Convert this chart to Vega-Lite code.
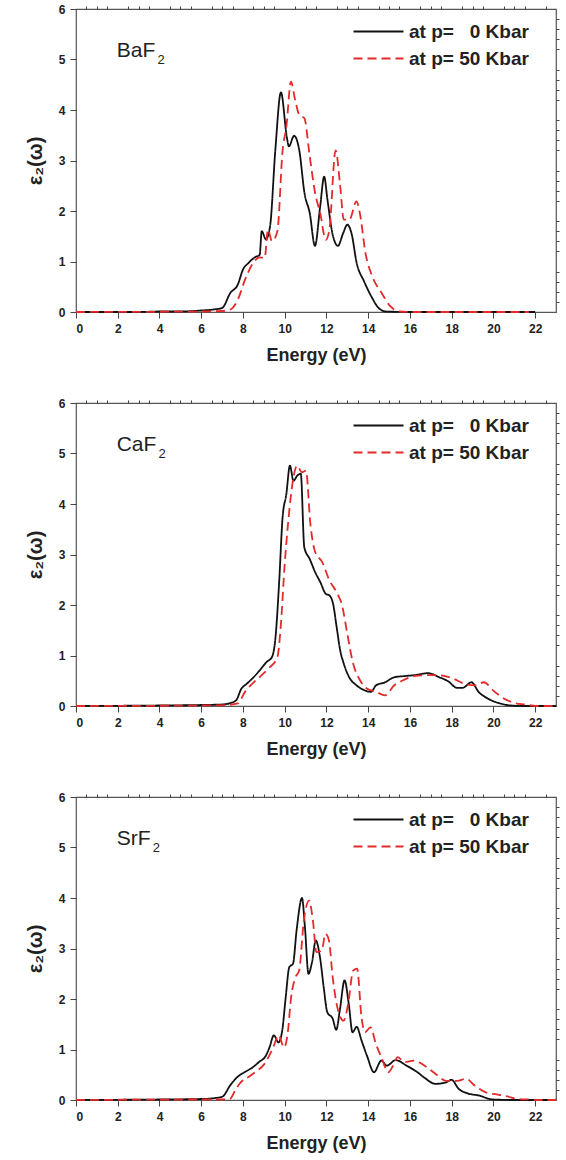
{
"$schema": "https://vega.github.io/schema/vega-lite/v6.json",
"autosize": {"type": "pad"},
"padding": {"left": 24, "top": 2, "right": 0, "bottom": 0},
"background": "white",
"spacing": 31,
"config": {
  "view": {"stroke": "#555", "strokeWidth": 1.2},
  "font": "Liberation Sans",
  "axis": {"grid": false, "domain": false, "labelOverlap": false, "labelFont": "Liberation Sans", "labelFontWeight": "bold", "labelFontSize": 12, "labelColor": "#222", "tickColor": "#444", "tickWidth": 1, "titleFont": "Liberation Sans", "titleFontWeight": "bold", "titleColor": "#222"},
  "legend": {"title": null, "orient": "none", "legendX": 264, "legendY": 9, "padding": 0, "symbolType": "M-2,0H2", "symbolSize": 625, "symbolOffset": 25, "symbolStrokeWidth": 1.8, "symbolFillColor": "transparent", "labelFont": "Liberation Sans", "labelFontSize": 19, "labelFontWeight": "bold", "labelColor": "#222", "labelOffset": 17, "rowPadding": 3},
  "line": {"interpolate": "monotone", "strokeWidth": 1.8},
  "text": {"font": "Liberation Sans", "color": "#222"}
},
"datasets": {
"BaF2": [
{"pressure":"0 Kbar","energy":0,"eps":0},{"pressure":"0 Kbar","energy":3,"eps":0},{"pressure":"0 Kbar","energy":4,"eps":0.01},{"pressure":"0 Kbar","energy":5,"eps":0.01},{"pressure":"0 Kbar","energy":6,"eps":0.03},{"pressure":"0 Kbar","energy":6.6,"eps":0.05},{"pressure":"0 Kbar","energy":7.0,"eps":0.08},{"pressure":"0 Kbar","energy":7.4,"eps":0.38},{"pressure":"0 Kbar","energy":7.75,"eps":0.54},{"pressure":"0 Kbar","energy":8.0,"eps":0.84},{"pressure":"0 Kbar","energy":8.26,"eps":0.97},{"pressure":"0 Kbar","energy":8.6,"eps":1.09},{"pressure":"0 Kbar","energy":8.8,"eps":1.13},{"pressure":"0 Kbar","energy":8.9,"eps":1.6},{"pressure":"0 Kbar","energy":9.1,"eps":1.44},{"pressure":"0 Kbar","energy":9.3,"eps":1.7},{"pressure":"0 Kbar","energy":9.55,"eps":3.2},{"pressure":"0 Kbar","energy":9.82,"eps":4.35},{"pressure":"0 Kbar","energy":10.1,"eps":3.47},{"pressure":"0 Kbar","energy":10.2,"eps":3.28},{"pressure":"0 Kbar","energy":10.45,"eps":3.49},{"pressure":"0 Kbar","energy":10.7,"eps":3.2},{"pressure":"0 Kbar","energy":10.95,"eps":2.35},{"pressure":"0 Kbar","energy":11.2,"eps":1.96},{"pressure":"0 Kbar","energy":11.45,"eps":1.31},{"pressure":"0 Kbar","energy":11.7,"eps":2.09},{"pressure":"0 Kbar","energy":11.89,"eps":2.68},{"pressure":"0 Kbar","energy":12.05,"eps":2.22},{"pressure":"0 Kbar","energy":12.3,"eps":1.53},{"pressure":"0 Kbar","energy":12.55,"eps":1.31},{"pressure":"0 Kbar","energy":12.8,"eps":1.56},{"pressure":"0 Kbar","energy":13.0,"eps":1.73},{"pressure":"0 Kbar","energy":13.2,"eps":1.56},{"pressure":"0 Kbar","energy":13.45,"eps":0.97},{"pressure":"0 Kbar","energy":13.8,"eps":0.61},{"pressure":"0 Kbar","energy":14.15,"eps":0.31},{"pressure":"0 Kbar","energy":14.5,"eps":0.08},{"pressure":"0 Kbar","energy":14.85,"eps":0.01},{"pressure":"0 Kbar","energy":16,"eps":0},{"pressure":"0 Kbar","energy":22,"eps":0},
{"pressure":"50 Kbar","energy":0,"eps":0},{"pressure":"50 Kbar","energy":6,"eps":0.01},{"pressure":"50 Kbar","energy":7.0,"eps":0.02},{"pressure":"50 Kbar","energy":7.4,"eps":0.05},{"pressure":"50 Kbar","energy":7.75,"eps":0.24},{"pressure":"50 Kbar","energy":8.1,"eps":0.64},{"pressure":"50 Kbar","energy":8.44,"eps":0.94},{"pressure":"50 Kbar","energy":8.8,"eps":1.08},{"pressure":"50 Kbar","energy":9.04,"eps":1.07},{"pressure":"50 Kbar","energy":9.2,"eps":1.63},{"pressure":"50 Kbar","energy":9.39,"eps":1.4},{"pressure":"50 Kbar","energy":9.65,"eps":1.6},{"pressure":"50 Kbar","energy":9.9,"eps":3.2},{"pressure":"50 Kbar","energy":10.08,"eps":3.67},{"pressure":"50 Kbar","energy":10.3,"eps":4.56},{"pressure":"50 Kbar","energy":10.5,"eps":4.2},{"pressure":"50 Kbar","energy":10.7,"eps":3.9},{"pressure":"50 Kbar","energy":10.94,"eps":3.84},{"pressure":"50 Kbar","energy":11.2,"eps":3.08},{"pressure":"50 Kbar","energy":11.46,"eps":2.35},{"pressure":"50 Kbar","energy":11.7,"eps":1.96},{"pressure":"50 Kbar","energy":11.97,"eps":1.43},{"pressure":"50 Kbar","energy":12.14,"eps":1.63},{"pressure":"50 Kbar","energy":12.44,"eps":3.2},{"pressure":"50 Kbar","energy":12.66,"eps":2.49},{"pressure":"50 Kbar","energy":12.83,"eps":1.83},{"pressure":"50 Kbar","energy":13.1,"eps":1.83},{"pressure":"50 Kbar","energy":13.44,"eps":2.19},{"pressure":"50 Kbar","energy":13.6,"eps":1.96},{"pressure":"50 Kbar","energy":13.87,"eps":1.17},{"pressure":"50 Kbar","energy":14.2,"eps":0.7},{"pressure":"50 Kbar","energy":14.64,"eps":0.38},{"pressure":"50 Kbar","energy":15.07,"eps":0.11},{"pressure":"50 Kbar","energy":15.5,"eps":0.01},{"pressure":"50 Kbar","energy":16,"eps":0},{"pressure":"50 Kbar","energy":21.7,"eps":0}
],
"CaF2": [
{"pressure":"0 Kbar","energy":0,"eps":0},{"pressure":"0 Kbar","energy":4,"eps":0.01},{"pressure":"0 Kbar","energy":6,"eps":0.02},{"pressure":"0 Kbar","energy":7,"eps":0.03},{"pressure":"0 Kbar","energy":7.41,"eps":0.06},{"pressure":"0 Kbar","energy":7.67,"eps":0.11},{"pressure":"0 Kbar","energy":7.92,"eps":0.34},{"pressure":"0 Kbar","energy":8.18,"eps":0.44},{"pressure":"0 Kbar","energy":8.44,"eps":0.54},{"pressure":"0 Kbar","energy":8.79,"eps":0.7},{"pressure":"0 Kbar","energy":9.13,"eps":0.87},{"pressure":"0 Kbar","energy":9.39,"eps":0.97},{"pressure":"0 Kbar","energy":9.56,"eps":1.36},{"pressure":"0 Kbar","energy":9.73,"eps":2.42},{"pressure":"0 Kbar","energy":9.9,"eps":3.74},{"pressure":"0 Kbar","energy":10.08,"eps":4.2},{"pressure":"0 Kbar","energy":10.25,"eps":4.76},{"pressure":"0 Kbar","energy":10.42,"eps":4.46},{"pressure":"0 Kbar","energy":10.6,"eps":4.56},{"pressure":"0 Kbar","energy":10.77,"eps":4.6},{"pressure":"0 Kbar","energy":10.94,"eps":3.14},{"pressure":"0 Kbar","energy":11.2,"eps":2.91},{"pressure":"0 Kbar","energy":11.46,"eps":2.65},{"pressure":"0 Kbar","energy":11.71,"eps":2.45},{"pressure":"0 Kbar","energy":11.97,"eps":2.22},{"pressure":"0 Kbar","energy":12.14,"eps":2.19},{"pressure":"0 Kbar","energy":12.32,"eps":2.02},{"pressure":"0 Kbar","energy":12.49,"eps":1.56},{"pressure":"0 Kbar","energy":12.66,"eps":1.1},{"pressure":"0 Kbar","energy":12.83,"eps":0.84},{"pressure":"0 Kbar","energy":13.09,"eps":0.57},{"pressure":"0 Kbar","energy":13.44,"eps":0.41},{"pressure":"0 Kbar","energy":13.78,"eps":0.32},{"pressure":"0 Kbar","energy":14.13,"eps":0.28},{"pressure":"0 Kbar","energy":14.38,"eps":0.41},{"pressure":"0 Kbar","energy":14.81,"eps":0.47},{"pressure":"0 Kbar","energy":15.25,"eps":0.57},{"pressure":"0 Kbar","energy":15.68,"eps":0.59},{"pressure":"0 Kbar","energy":16.19,"eps":0.61},{"pressure":"0 Kbar","energy":16.88,"eps":0.65},{"pressure":"0 Kbar","energy":17.4,"eps":0.57},{"pressure":"0 Kbar","energy":17.83,"eps":0.49},{"pressure":"0 Kbar","energy":18.26,"eps":0.36},{"pressure":"0 Kbar","energy":18.52,"eps":0.36},{"pressure":"0 Kbar","energy":18.95,"eps":0.47},{"pressure":"0 Kbar","energy":19.29,"eps":0.28},{"pressure":"0 Kbar","energy":19.72,"eps":0.15},{"pressure":"0 Kbar","energy":20.24,"eps":0.06},{"pressure":"0 Kbar","energy":20.84,"eps":0.01},{"pressure":"0 Kbar","energy":21.5,"eps":0},{"pressure":"0 Kbar","energy":23,"eps":0},
{"pressure":"50 Kbar","energy":0,"eps":0},{"pressure":"50 Kbar","energy":6,"eps":0.01},{"pressure":"50 Kbar","energy":7.2,"eps":0.02},{"pressure":"50 Kbar","energy":7.75,"eps":0.05},{"pressure":"50 Kbar","energy":8.1,"eps":0.28},{"pressure":"50 Kbar","energy":8.44,"eps":0.44},{"pressure":"50 Kbar","energy":8.79,"eps":0.57},{"pressure":"50 Kbar","energy":9.22,"eps":0.74},{"pressure":"50 Kbar","energy":9.65,"eps":0.97},{"pressure":"50 Kbar","energy":9.82,"eps":1.63},{"pressure":"50 Kbar","energy":9.99,"eps":2.75},{"pressure":"50 Kbar","energy":10.16,"eps":3.61},{"pressure":"50 Kbar","energy":10.42,"eps":4.53},{"pressure":"50 Kbar","energy":10.6,"eps":4.76},{"pressure":"50 Kbar","energy":10.82,"eps":4.63},{"pressure":"50 Kbar","energy":11.02,"eps":4.66},{"pressure":"50 Kbar","energy":11.23,"eps":3.61},{"pressure":"50 Kbar","energy":11.46,"eps":3.05},{"pressure":"50 Kbar","energy":11.8,"eps":2.85},{"pressure":"50 Kbar","energy":12.14,"eps":2.49},{"pressure":"50 Kbar","energy":12.49,"eps":2.25},{"pressure":"50 Kbar","energy":12.75,"eps":1.99},{"pressure":"50 Kbar","energy":13.0,"eps":1.43},{"pressure":"50 Kbar","energy":13.26,"eps":0.87},{"pressure":"50 Kbar","energy":13.61,"eps":0.51},{"pressure":"50 Kbar","energy":13.95,"eps":0.34},{"pressure":"50 Kbar","energy":14.38,"eps":0.28},{"pressure":"50 Kbar","energy":14.81,"eps":0.21},{"pressure":"50 Kbar","energy":15.25,"eps":0.41},{"pressure":"50 Kbar","energy":15.68,"eps":0.51},{"pressure":"50 Kbar","energy":16.19,"eps":0.59},{"pressure":"50 Kbar","energy":16.8,"eps":0.61},{"pressure":"50 Kbar","energy":17.4,"eps":0.61},{"pressure":"50 Kbar","energy":18.09,"eps":0.54},{"pressure":"50 Kbar","energy":18.6,"eps":0.44},{"pressure":"50 Kbar","energy":19.12,"eps":0.41},{"pressure":"50 Kbar","energy":19.55,"eps":0.47},{"pressure":"50 Kbar","energy":19.98,"eps":0.31},{"pressure":"50 Kbar","energy":20.5,"eps":0.15},{"pressure":"50 Kbar","energy":21.02,"eps":0.06},{"pressure":"50 Kbar","energy":21.53,"eps":0.03},{"pressure":"50 Kbar","energy":22.05,"eps":0},{"pressure":"50 Kbar","energy":23,"eps":0}
],
"SrF2": [
{"pressure":"0 Kbar","energy":0,"eps":0},{"pressure":"0 Kbar","energy":4,"eps":0.01},{"pressure":"0 Kbar","energy":6,"eps":0.02},{"pressure":"0 Kbar","energy":6.7,"eps":0.04},{"pressure":"0 Kbar","energy":7.03,"eps":0.07},{"pressure":"0 Kbar","energy":7.37,"eps":0.28},{"pressure":"0 Kbar","energy":7.72,"eps":0.45},{"pressure":"0 Kbar","energy":8.07,"eps":0.55},{"pressure":"0 Kbar","energy":8.41,"eps":0.63},{"pressure":"0 Kbar","energy":8.76,"eps":0.75},{"pressure":"0 Kbar","energy":9.1,"eps":0.88},{"pressure":"0 Kbar","energy":9.27,"eps":1.04},{"pressure":"0 Kbar","energy":9.48,"eps":1.28},{"pressure":"0 Kbar","energy":9.7,"eps":1.14},{"pressure":"0 Kbar","energy":9.88,"eps":1.37},{"pressure":"0 Kbar","energy":10.05,"eps":2.04},{"pressure":"0 Kbar","energy":10.22,"eps":2.63},{"pressure":"0 Kbar","energy":10.4,"eps":2.7},{"pressure":"0 Kbar","energy":10.57,"eps":3.36},{"pressure":"0 Kbar","energy":10.83,"eps":4.0},{"pressure":"0 Kbar","energy":10.97,"eps":3.42},{"pressure":"0 Kbar","energy":11.14,"eps":2.5},{"pressure":"0 Kbar","energy":11.31,"eps":2.73},{"pressure":"0 Kbar","energy":11.49,"eps":3.16},{"pressure":"0 Kbar","energy":11.69,"eps":2.83},{"pressure":"0 Kbar","energy":11.87,"eps":2.23},{"pressure":"0 Kbar","energy":12.04,"eps":1.74},{"pressure":"0 Kbar","energy":12.3,"eps":1.61},{"pressure":"0 Kbar","energy":12.47,"eps":1.39},{"pressure":"0 Kbar","energy":12.64,"eps":1.77},{"pressure":"0 Kbar","energy":12.87,"eps":2.37},{"pressure":"0 Kbar","energy":13.07,"eps":1.9},{"pressure":"0 Kbar","energy":13.25,"eps":1.34},{"pressure":"0 Kbar","energy":13.45,"eps":1.45},{"pressure":"0 Kbar","energy":13.68,"eps":1.18},{"pressure":"0 Kbar","energy":13.94,"eps":0.88},{"pressure":"0 Kbar","energy":14.28,"eps":0.55},{"pressure":"0 Kbar","energy":14.63,"eps":0.78},{"pressure":"0 Kbar","energy":14.89,"eps":0.68},{"pressure":"0 Kbar","energy":15.32,"eps":0.79},{"pressure":"0 Kbar","energy":15.84,"eps":0.68},{"pressure":"0 Kbar","energy":16.36,"eps":0.55},{"pressure":"0 Kbar","energy":16.7,"eps":0.44},{"pressure":"0 Kbar","energy":17.22,"eps":0.32},{"pressure":"0 Kbar","energy":17.74,"eps":0.35},{"pressure":"0 Kbar","energy":17.99,"eps":0.4},{"pressure":"0 Kbar","energy":18.34,"eps":0.22},{"pressure":"0 Kbar","energy":18.77,"eps":0.13},{"pressure":"0 Kbar","energy":19.29,"eps":0.09},{"pressure":"0 Kbar","energy":19.98,"eps":0.01},{"pressure":"0 Kbar","energy":21,"eps":0},{"pressure":"0 Kbar","energy":23,"eps":0},
{"pressure":"50 Kbar","energy":0,"eps":0},{"pressure":"50 Kbar","energy":6,"eps":0.01},{"pressure":"50 Kbar","energy":7.0,"eps":0.01},{"pressure":"50 Kbar","energy":7.37,"eps":0.02},{"pressure":"50 Kbar","energy":7.63,"eps":0.19},{"pressure":"50 Kbar","energy":7.89,"eps":0.35},{"pressure":"50 Kbar","energy":8.24,"eps":0.45},{"pressure":"50 Kbar","energy":8.58,"eps":0.55},{"pressure":"50 Kbar","energy":9.02,"eps":0.71},{"pressure":"50 Kbar","energy":9.45,"eps":1.04},{"pressure":"50 Kbar","energy":9.71,"eps":1.28},{"pressure":"50 Kbar","energy":9.97,"eps":1.04},{"pressure":"50 Kbar","energy":10.14,"eps":1.31},{"pressure":"50 Kbar","energy":10.31,"eps":2.04},{"pressure":"50 Kbar","energy":10.52,"eps":2.43},{"pressure":"50 Kbar","energy":10.69,"eps":2.56},{"pressure":"50 Kbar","energy":10.92,"eps":3.56},{"pressure":"50 Kbar","energy":11.17,"eps":3.95},{"pressure":"50 Kbar","energy":11.35,"eps":3.56},{"pressure":"50 Kbar","energy":11.52,"eps":2.93},{"pressure":"50 Kbar","energy":11.78,"eps":2.96},{"pressure":"50 Kbar","energy":11.95,"eps":3.29},{"pressure":"50 Kbar","energy":12.12,"eps":3.16},{"pressure":"50 Kbar","energy":12.3,"eps":2.43},{"pressure":"50 Kbar","energy":12.56,"eps":1.77},{"pressure":"50 Kbar","energy":12.82,"eps":1.57},{"pressure":"50 Kbar","energy":13.04,"eps":1.9},{"pressure":"50 Kbar","energy":13.28,"eps":2.56},{"pressure":"50 Kbar","energy":13.47,"eps":2.6},{"pressure":"50 Kbar","energy":13.68,"eps":1.64},{"pressure":"50 Kbar","energy":13.85,"eps":1.34},{"pressure":"50 Kbar","energy":14.11,"eps":1.44},{"pressure":"50 Kbar","energy":14.37,"eps":1.11},{"pressure":"50 Kbar","energy":14.63,"eps":0.85},{"pressure":"50 Kbar","energy":14.97,"eps":0.55},{"pressure":"50 Kbar","energy":15.23,"eps":0.71},{"pressure":"50 Kbar","energy":15.41,"eps":0.85},{"pressure":"50 Kbar","energy":15.75,"eps":0.75},{"pressure":"50 Kbar","energy":16.18,"eps":0.78},{"pressure":"50 Kbar","energy":16.7,"eps":0.68},{"pressure":"50 Kbar","energy":17.22,"eps":0.52},{"pressure":"50 Kbar","energy":17.74,"eps":0.38},{"pressure":"50 Kbar","energy":18.26,"eps":0.38},{"pressure":"50 Kbar","energy":18.69,"eps":0.42},{"pressure":"50 Kbar","energy":19.12,"eps":0.28},{"pressure":"50 Kbar","energy":19.64,"eps":0.15},{"pressure":"50 Kbar","energy":20.16,"eps":0.11},{"pressure":"50 Kbar","energy":20.67,"eps":0.07},{"pressure":"50 Kbar","energy":21.19,"eps":0.02},{"pressure":"50 Kbar","energy":21.71,"eps":0.01},{"pressure":"50 Kbar","energy":22.2,"eps":0},{"pressure":"50 Kbar","energy":23,"eps":0}
]
},
"vconcat": [
{
 "width": 480, "height": 303,
 "resolve": {"axis": {"x": "independent", "y": "independent"}},
 "layer": [
  {"data": {"name": "BaF2"}, "mark": {"type": "line"},
   "encoding": {
    "x": {"field": "energy", "type": "quantitative", "scale": {"domain": [0, 23], "nice": false}, "axis": {"title": "Energy (eV)", "titleFontSize": 18, "titlePadding": 12, "values": [0,2,4,6,8,10,12,14,16,18,20,22], "tickSize": 6, "labelPadding": 5}},
    "y": {"field": "eps", "type": "quantitative", "scale": {"domain": [0, 6], "nice": false}, "axis": {"title": "ε₂(ω)", "titleFontSize": 20, "titlePadding": 13, "values": [0,1,2,3,4,5,6], "tickSize": 6, "labelPadding": 5}},
    "color": {"field": "pressure", "type": "nominal", "scale": {"domain": ["0 Kbar", "50 Kbar"], "range": ["#111111", "#e32b2b"]}, "legend": {"labelExpr": "'at p= ' + (datum.label == '0 Kbar' ? '\u00a0\u00a0' : '') + datum.label"}},
    "strokeDash": {"field": "pressure", "type": "nominal", "scale": {"domain": ["0 Kbar", "50 Kbar"], "range": [[1, 0], [9, 5]]}, "legend": {"labelExpr": "'at p= ' + (datum.label == '0 Kbar' ? '\u00a0\u00a0' : '') + datum.label"}}
   }},
  {"data": {"values": [{"name": "BaF", "sub": "2"}]}, "mark": {"type": "text", "fontSize": 21, "align": "left", "baseline": "alphabetic"},
   "encoding": {"x": {"datum": 1.95, "axis": {"values": [0.5,1,1.5,2.5,3,3.5,4.5,5,5.5,6.5,7,7.5,8.5,9,9.5,10.5,11,11.5,12.5,13,13.5,14.5,15,15.5,16.5,17,17.5,18.5,19,19.5,20.5,21,21.5,22.5], "labels": false, "title": null, "tickSize": 3}}, "y": {"datum": 5.05, "axis": {"values": [0.2,0.4,0.6,0.8,1.2,1.4,1.6,1.8,2.2,2.4,2.6,2.8,3.2,3.4,3.6,3.8,4.2,4.4,4.6,4.8,5.2,5.4,5.6,5.8], "labels": false, "title": null, "tickSize": 3}}, "text": {"field": "name"}}},
  {"data": {"values": [{"name": "BaF", "sub": "2"}]}, "mark": {"type": "text", "fontSize": 13, "align": "left", "baseline": "alphabetic"},
   "encoding": {"x": {"datum": 3.9, "axis": null}, "y": {"datum": 4.92, "axis": null}, "text": {"field": "sub"}}}
 ]
},
{
 "width": 480, "height": 303,
 "resolve": {"axis": {"x": "independent", "y": "independent"}},
 "layer": [
  {"data": {"name": "CaF2"}, "mark": {"type": "line"},
   "encoding": {
    "x": {"field": "energy", "type": "quantitative", "scale": {"domain": [0, 23], "nice": false}, "axis": {"title": "Energy (eV)", "titleFontSize": 18, "titlePadding": 12, "values": [0,2,4,6,8,10,12,14,16,18,20,22], "tickSize": 6, "labelPadding": 5}},
    "y": {"field": "eps", "type": "quantitative", "scale": {"domain": [0, 6], "nice": false}, "axis": {"title": "ε₂(ω)", "titleFontSize": 20, "titlePadding": 13, "values": [0,1,2,3,4,5,6], "tickSize": 6, "labelPadding": 5}},
    "color": {"field": "pressure", "type": "nominal", "scale": {"domain": ["0 Kbar", "50 Kbar"], "range": ["#111111", "#e32b2b"]}, "legend": {"labelExpr": "'at p= ' + (datum.label == '0 Kbar' ? '\u00a0\u00a0' : '') + datum.label"}},
    "strokeDash": {"field": "pressure", "type": "nominal", "scale": {"domain": ["0 Kbar", "50 Kbar"], "range": [[1, 0], [9, 5]]}, "legend": {"labelExpr": "'at p= ' + (datum.label == '0 Kbar' ? '\u00a0\u00a0' : '') + datum.label"}}
   }},
  {"data": {"values": [{"name": "CaF", "sub": "2"}]}, "mark": {"type": "text", "fontSize": 21, "align": "left", "baseline": "alphabetic"},
   "encoding": {"x": {"datum": 1.95, "axis": {"values": [0.5,1,1.5,2.5,3,3.5,4.5,5,5.5,6.5,7,7.5,8.5,9,9.5,10.5,11,11.5,12.5,13,13.5,14.5,15,15.5,16.5,17,17.5,18.5,19,19.5,20.5,21,21.5,22.5], "labels": false, "title": null, "tickSize": 3}}, "y": {"datum": 5.05, "axis": {"values": [0.2,0.4,0.6,0.8,1.2,1.4,1.6,1.8,2.2,2.4,2.6,2.8,3.2,3.4,3.6,3.8,4.2,4.4,4.6,4.8,5.2,5.4,5.6,5.8], "labels": false, "title": null, "tickSize": 3}}, "text": {"field": "name"}}},
  {"data": {"values": [{"name": "CaF", "sub": "2"}]}, "mark": {"type": "text", "fontSize": 13, "align": "left", "baseline": "alphabetic"},
   "encoding": {"x": {"datum": 3.95, "axis": null}, "y": {"datum": 4.92, "axis": null}, "text": {"field": "sub"}}}
 ]
},
{
 "width": 480, "height": 303,
 "resolve": {"axis": {"x": "independent", "y": "independent"}},
 "layer": [
  {"data": {"name": "SrF2"}, "mark": {"type": "line"},
   "encoding": {
    "x": {"field": "energy", "type": "quantitative", "scale": {"domain": [0, 23], "nice": false}, "axis": {"title": "Energy (eV)", "titleFontSize": 18, "titlePadding": 12, "values": [0,2,4,6,8,10,12,14,16,18,20,22], "tickSize": 6, "labelPadding": 5}},
    "y": {"field": "eps", "type": "quantitative", "scale": {"domain": [0, 6], "nice": false}, "axis": {"title": "ε₂(ω)", "titleFontSize": 20, "titlePadding": 13, "values": [0,1,2,3,4,5,6], "tickSize": 6, "labelPadding": 5}},
    "color": {"field": "pressure", "type": "nominal", "scale": {"domain": ["0 Kbar", "50 Kbar"], "range": ["#111111", "#e32b2b"]}, "legend": {"labelExpr": "'at p= ' + (datum.label == '0 Kbar' ? '\u00a0\u00a0' : '') + datum.label"}},
    "strokeDash": {"field": "pressure", "type": "nominal", "scale": {"domain": ["0 Kbar", "50 Kbar"], "range": [[1, 0], [9, 5]]}, "legend": {"labelExpr": "'at p= ' + (datum.label == '0 Kbar' ? '\u00a0\u00a0' : '') + datum.label"}}
   }},
  {"data": {"values": [{"name": "SrF", "sub": "2"}]}, "mark": {"type": "text", "fontSize": 21, "align": "left", "baseline": "alphabetic"},
   "encoding": {"x": {"datum": 1.95, "axis": {"values": [0.5,1,1.5,2.5,3,3.5,4.5,5,5.5,6.5,7,7.5,8.5,9,9.5,10.5,11,11.5,12.5,13,13.5,14.5,15,15.5,16.5,17,17.5,18.5,19,19.5,20.5,21,21.5,22.5], "labels": false, "title": null, "tickSize": 3}}, "y": {"datum": 5.05, "axis": {"values": [0.2,0.4,0.6,0.8,1.2,1.4,1.6,1.8,2.2,2.4,2.6,2.8,3.2,3.4,3.6,3.8,4.2,4.4,4.6,4.8,5.2,5.4,5.6,5.8], "labels": false, "title": null, "tickSize": 3}}, "text": {"field": "name"}}},
  {"data": {"values": [{"name": "SrF", "sub": "2"}]}, "mark": {"type": "text", "fontSize": 13, "align": "left", "baseline": "alphabetic"},
   "encoding": {"x": {"datum": 3.68, "axis": null}, "y": {"datum": 4.92, "axis": null}, "text": {"field": "sub"}}}
 ]
}
],
"resolve": {"scale": {"color": "independent", "strokeDash": "independent"}}
}
